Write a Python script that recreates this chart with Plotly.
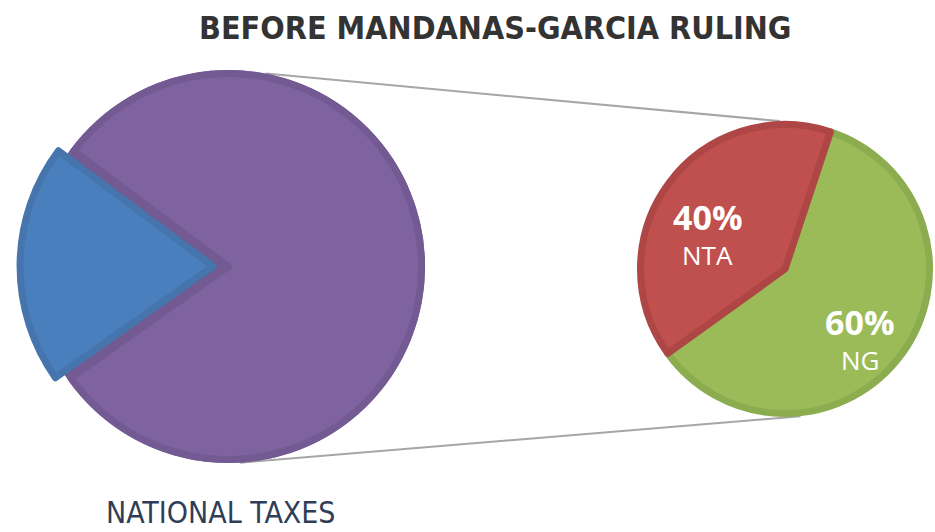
import math
import plotly.graph_objects as go

# ---------------- data ----------------
left_labels = ["Customs & Other Taxes", "National Internal Revenue Taxes"]
left_values = [20, 80]
left_colors = ["#4a7fbd", "#7f63a1"]
left_borders = ["#4674ad", "#735a92"]

right_labels = ["NG", "NTA"]
right_values = [60, 40]
right_colors = ["#9bbb59", "#c0504d"]
right_borders = ["#8bac4f", "#ad4645"]

title_text = "BEFORE MANDANAS-GARCIA RULING"
caption_text = "NATIONAL TAXES"

# ---------------- layout geometry (pixels) ----------------
W, H = 935, 532
LW = 7  # slice border width

L_CX, L_CY, L_R = 228.5, 266.5, 196.5 - LW / 2
L_PULL = 0.08
L_ROT = 234.75
R_CX, R_CY, R_R = 785, 269, 148 - LW / 2
R_ROT = 18.3
# label placement style for the small pie (fraction of radius, angular shift)
LABEL_R_FRAC = [0.70, 0.57]
LABEL_ANG_SHIFT = [7.5, -13.0]


def domain(cx, cy, r, pull):
    half = r * (1 + pull)
    return dict(x=[(cx - half) / W, (cx + half) / W],
                y=[(H - cy - half) / H, (H - cy + half) / H])


def pt(cx, cy, r, ang):
    a = math.radians(ang)
    return cx + r * math.sin(a), cy - r * math.cos(a)


fig = go.Figure()

# backdrop disc (border colour of the large slice) so exploded gap shows as border
fig.add_trace(go.Pie(
    labels=["All national taxes"], values=[sum(left_values)], sort=False,
    marker=dict(colors=[left_borders[1]], line=dict(color=left_borders[1], width=LW)),
    textinfo="none", hoverinfo="skip", showlegend=False,
    domain=domain(L_CX, L_CY, L_R, 0),
))

fig.add_trace(go.Pie(
    labels=left_labels, values=left_values, sort=False,
    direction="clockwise", rotation=L_ROT,
    pull=[L_PULL, 0],
    marker=dict(colors=left_colors, line=dict(color=left_borders, width=LW)),
    textinfo="none", showlegend=False,
    domain=domain(L_CX, L_CY, L_R, L_PULL),
))

fig.add_trace(go.Pie(
    labels=right_labels, values=right_values, sort=False,
    direction="clockwise", rotation=R_ROT,
    marker=dict(colors=right_colors, line=dict(color=right_borders, width=LW)),
    textinfo="none", showlegend=False,
    domain=domain(R_CX, R_CY, R_R, 0),
))

# slice labels of the small pie, placed from the slice angles
total = sum(right_values)
start = R_ROT
for i, (lab, v) in enumerate(zip(right_labels, right_values)):
    span = 360 * v / total
    mid = start + span / 2 + LABEL_ANG_SHIFT[i]
    start += span
    x, y = pt(R_CX, R_CY, (R_R + LW / 2) * LABEL_R_FRAC[i], mid)
    fig.add_annotation(
        text=f"<b>{v / total:.0%}</b>", xref="paper", yref="paper",
        x=x / W, y=1 - y / H, xanchor="center", yanchor="middle",
        yshift=19, showarrow=False,
        font=dict(family="Open Sans, Noto Sans, sans-serif", size=34, color="white"),
    )
    fig.add_annotation(
        text=lab, xref="paper", yref="paper",
        x=x / W, y=1 - y / H, xanchor="center", yanchor="middle",
        yshift=-19, showarrow=False,
        font=dict(family="Open Sans, Noto Sans, sans-serif", size=26, color="white"),
    )

# connector lines between the two pies
Lr_out = L_R + LW / 2
Rr_out = R_R + LW / 2
for la, ra in [(11, -2), (176.6, 174)]:
    x0, y0 = pt(L_CX, L_CY, Lr_out, la)
    x1, y1 = pt(R_CX, R_CY, Rr_out, ra)
    fig.add_shape(type="line", xref="paper", yref="paper",
                  x0=x0 / W, y0=1 - y0 / H, x1=x1 / W, y1=1 - y1 / H,
                  line=dict(color="#a6a6a6", width=2), layer="below")

fig.add_annotation(
    text=f"<b>{title_text}</b>", xref="paper", yref="paper",
    x=495.5 / W, y=1 - 28 / H, xanchor="center", yanchor="middle",
    showarrow=False,
    font=dict(family="Liberation Sans Narrow, DejaVu Sans Condensed, sans-serif",
              size=32, color="#333333"),
)
fig.add_annotation(
    text=caption_text, xref="paper", yref="paper",
    x=104 / W, y=1 - 512 / H, xanchor="left", yanchor="middle",
    showarrow=False,
    font=dict(family="Liberation Sans Narrow, DejaVu Sans Condensed, sans-serif",
              size=30, color="#2f3e56"),
)

fig.update_layout(
    width=W, height=H,
    margin=dict(l=0, r=0, t=0, b=0),
    paper_bgcolor="white", plot_bgcolor="white",
)

fig.write_html("out.html",
               config={"displayModeBar": False},
               post_script="document.body.style.margin='0';document.body.style.overflow='hidden';")
